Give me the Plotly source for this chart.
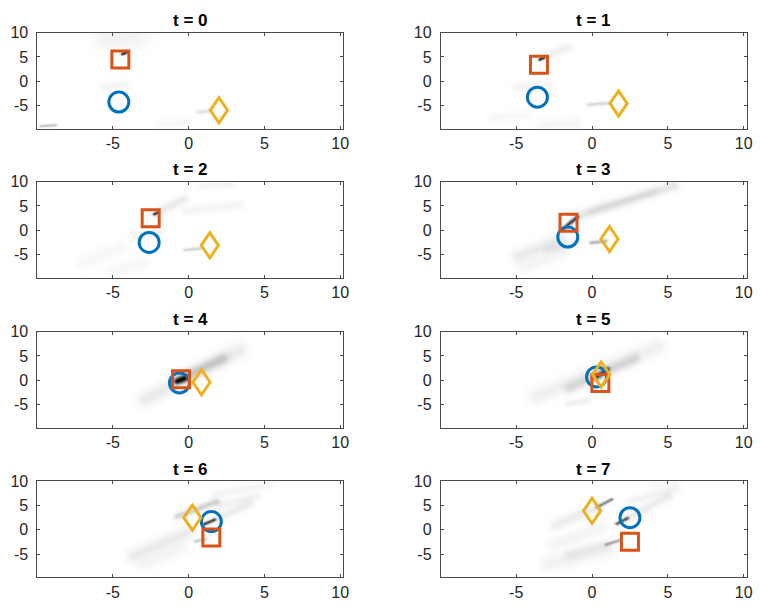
import numpy as np
import plotly.graph_objects as go

# Time steps shown in the 4x2 grid
times = [0, 1, 2, 3, 4, 5, 6, 7]

# Tracked object positions at each time step
circle_x = [-4.6, -3.6, -2.6, -1.6, -0.6, 0.3, 1.5, 2.5]
circle_y = [-4.3, -3.3, -2.5, -1.4, -0.55, 0.7, 1.7, 2.5]
square_x = [-4.5, -3.5, -2.5, -1.55, -0.5, 0.55, 1.5, 2.5]
square_y = [4.45, 3.4, 2.5, 1.55, 0.2, -0.55, -1.6, -2.45]
diamond_x = [2.0, 1.75, 1.4, 1.15, 0.85, 0.6, 0.25, 0.0]
diamond_y = [-6.0, -4.6, -3.1, -1.8, -0.4, 1.2, 2.5, 3.9]

# Density streaks per frame: (x start, y start, x end, y end, darkness, width)
streaks_t0 = [(-4.1, 6.0, -4.4, 5.6, 0.95, 0.06),
              (-5.5, 9.0, -3.5, 9.3, 0.05, 0.55),
              (-5.6, -1.2, -4.2, -0.7, 0.04, 0.2),
              (-8.8, -9.0, -9.8, -9.2, 0.25, 0.06),
              (0.6, -6.3, 1.5, -6.0, 0.12, 0.09),
              (-2.0, -8.9, -0.3, -8.5, 0.03, 0.2)]
streaks_t1 = [(-3.2, 4.9, -3.5, 4.5, 0.95, 0.06),
              (-1.6, 7.0, -3.2, 5.0, 0.06, 0.2),
              (-4.9, -1.3, -2.9, -0.9, 0.04, 0.25),
              (-0.3, -4.8, 1.1, -4.5, 0.15, 0.08),
              (-6.6, -7.5, -4.4, -7.0, 0.03, 0.2),
              (-3.3, -9.0, -1.1, -8.6, 0.04, 0.25)]
streaks_t2 = [(-2.0, 3.8, -2.3, 3.4, 0.9, 0.06),
              (-0.3, 6.5, -2.2, 3.6, 0.08, 0.2),
              (0.9, 9.1, 2.8, 9.4, 0.04, 0.15),
              (-0.2, 4.1, 3.3, 5.2, 0.04, 0.2),
              (-0.3, -4.0, 0.8, -3.6, 0.18, 0.08),
              (-3.5, -1.2, -2.0, -0.2, 0.04, 0.25),
              (-7.0, -6.5, -4.5, -3.5, 0.03, 0.3),
              (-5.0, -8.5, -3.0, -6.5, 0.03, 0.3)]
streaks_t3 = [(-1.9, 0.4, -1.0, 2.8, 0.8, 0.08),
              (5.4, 9.2, -1.0, 3.0, 0.1, 0.22),
              (0.0, 4.0, 4.0, 8.0, 0.05, 0.2),
              (-0.1, -2.5, 0.9, -2.2, 0.3, 0.08),
              (-4.9, -5.3, -2.1, -1.9, 0.08, 0.3),
              (-4.5, -7.5, -2.0, -4.5, 0.04, 0.3),
              (-3.0, -4.0, -1.0, -2.5, 0.06, 0.2)]
streaks_t4 = [(-0.8, -0.1, -0.3, 0.5, 1.0, 0.15),
              (-2.9, -3.9, 3.3, 6.2, 0.08, 0.35),
              (-0.5, 0.5, 2.2, 4.5, 0.16, 0.25)]
streaks_t5 = [(0.2, 0.6, 1.0, 2.3, 0.7, 0.12),
              (-3.75, -3.3, 4.3, 6.9, 0.06, 0.35),
              (-1.5, -1.5, 2.8, 4.5, 0.12, 0.25),
              (-1.6, -4.8, -0.3, -4.1, 0.06, 0.15)]
streaks_t6 = [(1.0, 1.2, 1.7, 2.1, 0.8, 0.07),
              (-0.8, 2.8, 1.8, 5.8, 0.18, 0.15),
              (0.4, -2.3, 1.1, -1.9, 0.2, 0.08),
              (-3.7, -5.3, -0.2, -0.6, 0.08, 0.3),
              (-3.0, -7.0, -0.5, -3.5, 0.04, 0.3),
              (1.7, 7.3, 5.3, 9.4, 0.04, 0.2),
              (2.0, 5.0, 4.5, 7.0, 0.05, 0.2),
              (1.8, 2.3, 4.0, 5.5, 0.07, 0.2)]
streaks_t7 = [(1.6, 1.3, 2.3, 2.4, 0.7, 0.07),
              (2.3, 2.5, 5.0, 6.9, 0.07, 0.2),
              (0.3, 4.7, 1.3, 6.3, 0.5, 0.07),
              (-2.5, 1.0, 0.3, 4.6, 0.07, 0.25),
              (0.9, -3.0, 1.8, -2.1, 0.35, 0.07),
              (-1.5, -5.0, 0.8, -3.2, 0.06, 0.25),
              (-2.9, -7.0, 1.0, -4.0, 0.05, 0.35),
              (-2.5, -3.0, 0.5, 0.5, 0.04, 0.3),
              (4.0, 9.3, 5.5, 9.6, 0.03, 0.15),
              (2.5, 6.0, 5.5, 8.5, 0.05, 0.2)]
streaks = [streaks_t0, streaks_t1, streaks_t2, streaks_t3,
           streaks_t4, streaks_t5, streaks_t6, streaks_t7]

# Grid of the density image
grid_x = np.round(np.arange(-10.0, 10.2 + 1e-9, 0.1), 2)
grid_y = np.round(np.arange(-9.8, 10.0 + 1e-9, 0.1), 2)
X_RANGE = [-9.97, 10.2]
Y_RANGE = [-9.8, 10.0]
tick_vals = [-5, 0, 5, 10]
tick_text = ["-5", "0", "5", "10"]

# y is compressed relative to x on screen; streak widths are set in screen-isotropic units
ASPECT = 0.322


def density(segments):
    gx, gy = np.meshgrid(grid_x, grid_y * ASPECT)
    keep = np.ones_like(gx)
    for x0, y0, x1, y1, dark, w in segments:
        ax, ay = x0, y0 * ASPECT
        dx, dy = x1 - x0, (y1 - y0) * ASPECT
        l2 = dx * dx + dy * dy
        t = np.clip(((gx - ax) * dx + (gy - ay) * dy) / l2, 0, 1)
        d2 = (gx - ax - t * dx) ** 2 + (gy - ay - t * dy) ** 2
        keep *= 1 - dark * np.exp(-d2 / (2 * w * w))
    return np.round(1 - keep, 3)


BLUE = "#0072BD"
ORANGE = "#D95319"
YELLOW = "#EDB120"
AXIS = "#262626"
FONT = "Liberation Sans, Arial, Helvetica, sans-serif"

W, H = 760, 609
col_px = [(37.7, 346.0), (444.3, 752.7)]
row_px = [(25.0, 122.3), (176.0, 273.5), (328.0, 425.5), (479.5, 577.0)]

fig = go.Figure()
layout = dict(width=W, height=H, margin=dict(l=0, r=0, t=0, b=0),
              paper_bgcolor="white", plot_bgcolor="white", showlegend=False)
annotations = []
shapes = []

for i, t in enumerate(times):
    r, c = divmod(i, 2)
    n = "" if i == 0 else str(i + 1)
    xa, ya = "x" + n, "y" + n
    x0p, x1p = col_px[c]
    y0p, y1p = row_px[r]
    xdom = [x0p / W, x1p / W]
    ydom = [1 - y1p / H, 1 - y0p / H]

    fig.add_trace(go.Heatmap(x=grid_x, y=grid_y, z=density(streaks[i]),
                             colorscale=[[0, "white"], [1, "black"]],
                             zmin=0, zmax=1, zsmooth="best", showscale=False,
                             hoverinfo="skip", xaxis=xa, yaxis=ya))
    fig.add_trace(go.Scatter(x=[circle_x[i]], y=[circle_y[i]], mode="markers",
                             marker=dict(symbol="circle-open", size=20, color=BLUE,
                                         line=dict(width=3, color=BLUE)),
                             xaxis=xa, yaxis=ya, cliponaxis=False))
    fig.add_trace(go.Scatter(x=[square_x[i]], y=[square_y[i]], mode="markers",
                             marker=dict(symbol="square-open", size=17, color=ORANGE,
                                         line=dict(width=3, color=ORANGE)),
                             xaxis=xa, yaxis=ya, cliponaxis=False))
    # diamond marker: a tall rhombus anchored at the data point
    shapes.append(dict(type="path", xref=xa, yref=ya,
                       xsizemode="pixel", ysizemode="pixel",
                       xanchor=diamond_x[i], yanchor=diamond_y[i],
                       path="M0,-12.6 L8.6,0 L0,12.6 L-8.6,0 Z",
                       line=dict(color=YELLOW, width=3), layer="above"))

    axis_common = dict(showgrid=False, zeroline=False, showline=True, mirror="ticks",
                       linecolor="#4a4a4a", linewidth=1, ticks="inside", ticklen=3,
                       tickcolor="#4a4a4a", tickwidth=1,
                       tickvals=tick_vals, ticktext=tick_text,
                       tickfont=dict(family=FONT, size=16, color=AXIS))
    layout["xaxis" + n] = dict(axis_common, domain=xdom, range=X_RANGE,
                               anchor=ya, ticklabelstandoff=0)
    layout["yaxis" + n] = dict(axis_common, domain=ydom, range=Y_RANGE,
                               anchor=xa, ticklabelstandoff=5)
    annotations.append(dict(text="<b>t = %d</b>" % t, xref="paper", yref="paper",
                            x=(xdom[0] + xdom[1]) / 2, y=ydom[1], yanchor="middle",
                            xanchor="center", yshift=12, showarrow=False,
                            borderpad=0,
                            font=dict(family=FONT, size=17, color="black")))

layout["annotations"] = annotations
layout["shapes"] = shapes
fig.update_layout(**layout)
fig.write_html("out.html")
